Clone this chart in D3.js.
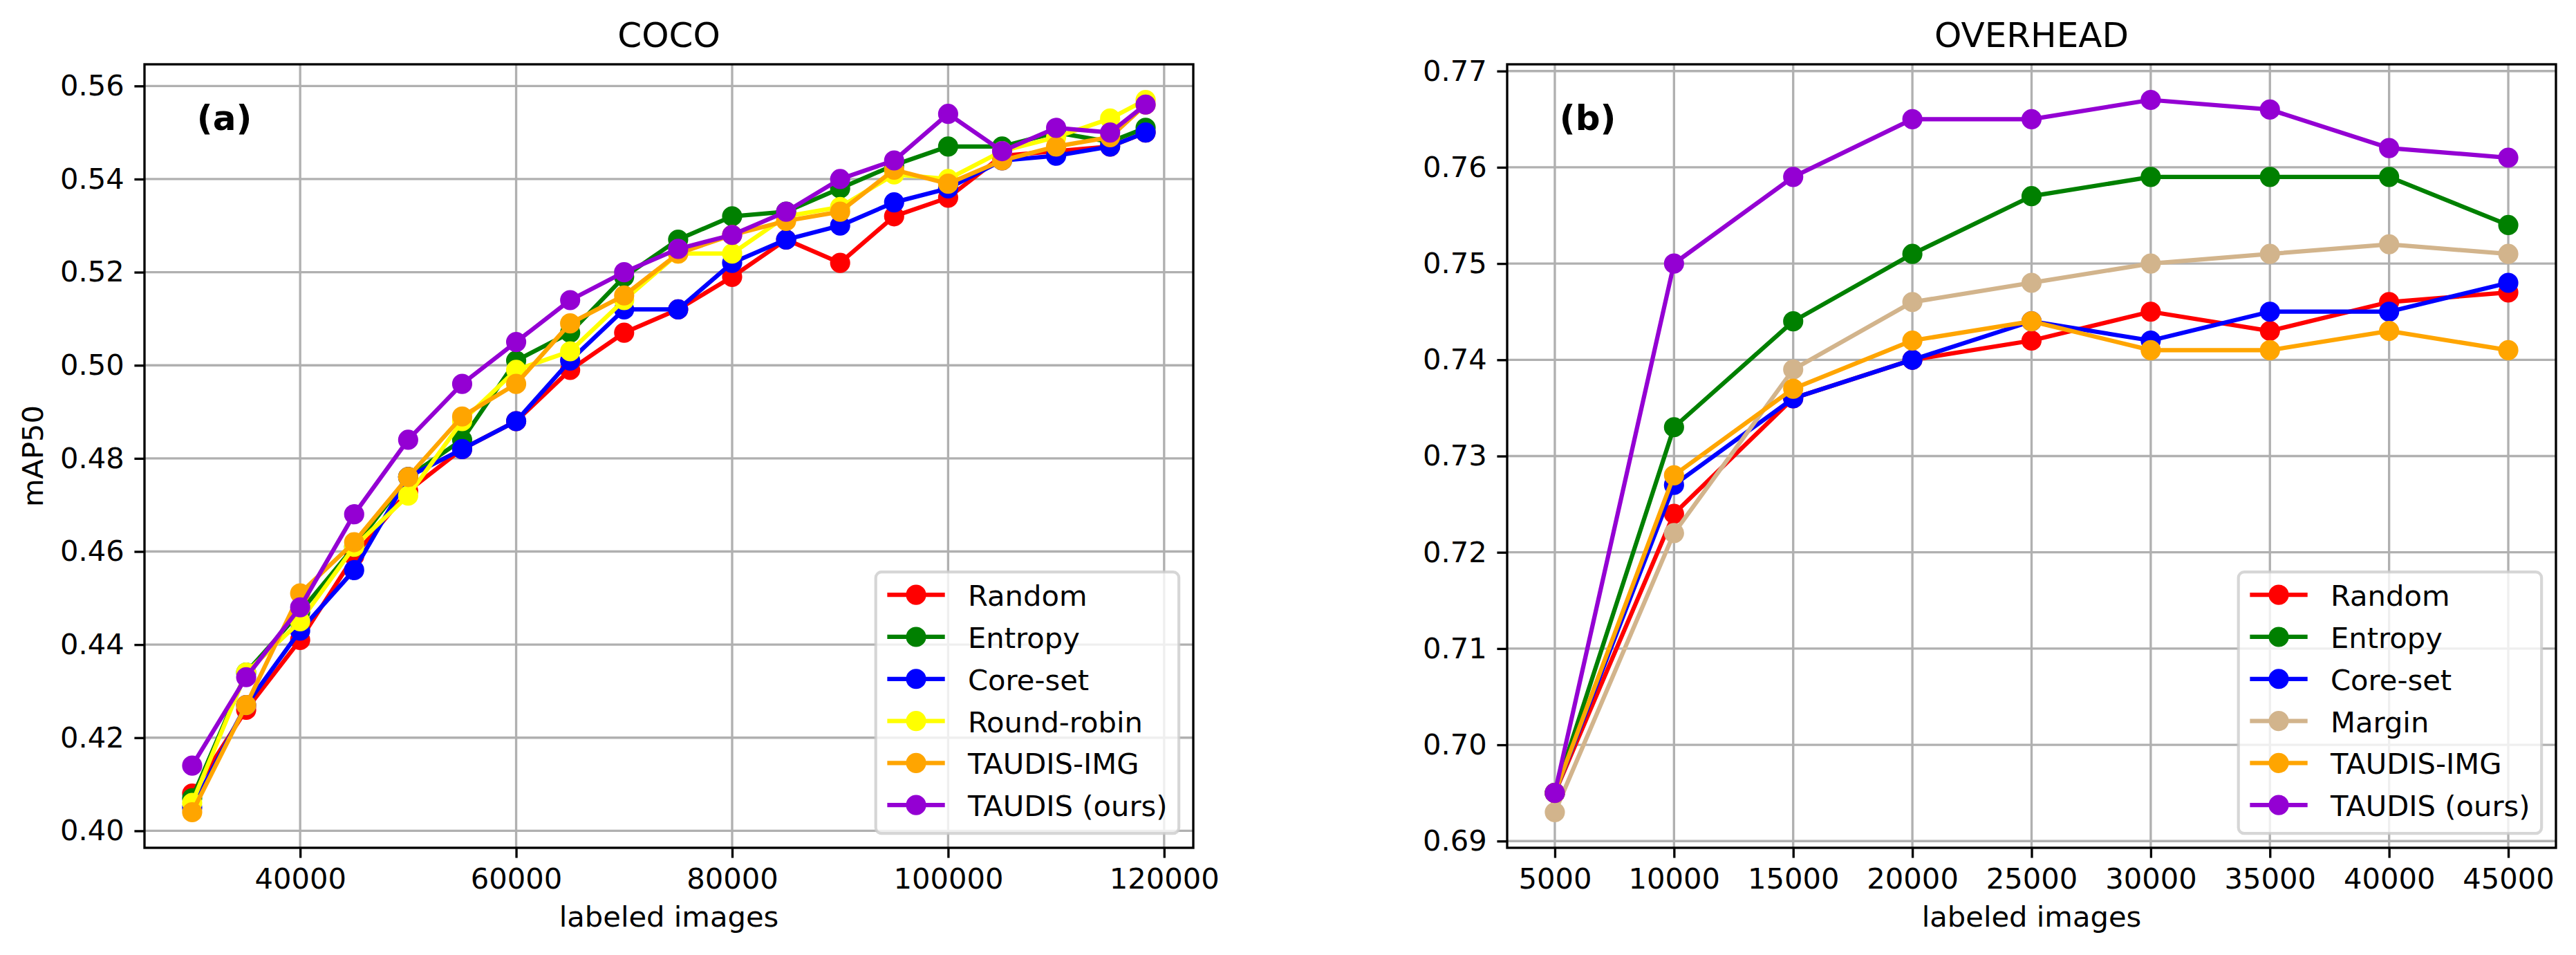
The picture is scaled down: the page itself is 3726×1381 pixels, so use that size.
<!DOCTYPE html>
<html>
<head>
<meta charset="utf-8">
<script src="https://cdn.jsdelivr.net/npm/d3@7"></script>
<style>
  body { margin: 0; background: #fff; }
  svg text { font-family: "DejaVu Sans", sans-serif; fill: #000; }
</style>
</head>
<body>
<svg id="chart" width="3726" height="1381"></svg>
<script>
// ---- data ----
var cocoImages = [30000, 35000, 40000, 45000, 50000, 55000, 60000, 65000, 70000, 75000,
                  80000, 85000, 90000, 95000, 100000, 105000, 110000, 115000, 118287];
var cocoRandom     = [0.408, 0.426, 0.441, 0.459, 0.473, 0.482, 0.488, 0.499, 0.507, 0.512,
                      0.519, 0.527, 0.522, 0.532, 0.536, 0.545, 0.546, 0.547, 0.550];
var cocoEntropy    = [0.407, 0.434, 0.447, 0.461, 0.476, 0.484, 0.501, 0.507, 0.519, 0.527,
                      0.532, 0.533, 0.538, 0.543, 0.547, 0.547, 0.550, 0.548, 0.551];
var cocoCoreset    = [0.405, 0.427, 0.443, 0.456, 0.476, 0.482, 0.488, 0.501, 0.512, 0.512,
                      0.522, 0.527, 0.530, 0.535, 0.538, 0.544, 0.545, 0.547, 0.550];
var cocoRoundRobin = [0.406, 0.434, 0.445, 0.461, 0.472, 0.488, 0.499, 0.503, 0.514, 0.524,
                      0.524, 0.532, 0.534, 0.541, 0.540, 0.546, 0.549, 0.553, 0.557];
var cocoTaudisImg  = [0.404, 0.427, 0.451, 0.462, 0.476, 0.489, 0.496, 0.509, 0.515, 0.524,
                      0.528, 0.531, 0.533, 0.542, 0.539, 0.544, 0.547, 0.549, 0.556];
var cocoTaudis     = [0.414, 0.433, 0.448, 0.468, 0.484, 0.496, 0.505, 0.514, 0.520, 0.525,
                      0.528, 0.533, 0.540, 0.544, 0.554, 0.546, 0.551, 0.550, 0.556];

var overheadImages = [5000, 10000, 15000, 20000, 25000, 30000, 35000, 40000, 45000];
var overheadRandom    = [0.695, 0.724, 0.736, 0.740, 0.742, 0.745, 0.743, 0.746, 0.747];
var overheadEntropy   = [0.695, 0.733, 0.744, 0.751, 0.757, 0.759, 0.759, 0.759, 0.754];
var overheadCoreset   = [0.695, 0.727, 0.736, 0.740, 0.744, 0.742, 0.745, 0.745, 0.748];
var overheadMargin    = [0.693, 0.722, 0.739, 0.746, 0.748, 0.750, 0.751, 0.752, 0.751];
var overheadTaudisImg = [0.695, 0.728, 0.737, 0.742, 0.744, 0.741, 0.741, 0.743, 0.741];
var overheadTaudis    = [0.695, 0.750, 0.759, 0.765, 0.765, 0.767, 0.766, 0.762, 0.761];

var cocoTicksX     = [40000, 60000, 80000, 100000, 120000],
    cocoTicksY     = [0.40, 0.42, 0.44, 0.46, 0.48, 0.50, 0.52, 0.54, 0.56],
    overheadTicksX = [5000, 10000, 15000, 20000, 25000, 30000, 35000, 40000, 45000],
    overheadTicksY = [0.69, 0.70, 0.71, 0.72, 0.73, 0.74, 0.75, 0.76, 0.77];

// ---- layout (300 dpi, so 1pt = 300/72 px) ----
var pt         = 300 / 72,
    fontSize   = 10 * pt,
    lineW      = 1.5 * pt,
    markR      = 3 * pt,
    markEdge   = 1 * pt,
    axisW      = 0.8 * pt,
    tickLen    = 3.5 * pt,
    tickPad    = 3.5 * pt,
    plotTop    = 93,
    plotBottom = 1226;

var svg = d3.select('#chart');
svg.append('rect').attr('width', 3726).attr('height', 1381).attr('fill', '#fff');

function padded(ext) {
  var r = ext[1] - ext[0];
  return [ext[0] - r * 0.05, ext[1] + r * 0.05];
}

function panel(opt) {
  var g = svg.append('g');

  var x = d3.scaleLinear()
    .domain(padded(d3.extent(opt.x)))
    .range([opt.left, opt.right]);

  var y = d3.scaleLinear()
    .domain(padded(d3.extent(d3.merge(opt.series.map(function(s) { return s.values; })))))
    .range([plotBottom, plotTop]);

  // grid
  var grid = g.append('g').attr('stroke', '#b0b0b0').attr('stroke-width', axisW);
  grid.selectAll('line.gx').data(opt.ticksX).enter().append('line')
    .attr('x1', x).attr('x2', x).attr('y1', plotTop).attr('y2', plotBottom);
  grid.selectAll('line.gy').data(opt.ticksY).enter().append('line')
    .attr('y1', y).attr('y2', y).attr('x1', opt.left).attr('x2', opt.right);

  // series
  var line = d3.line()
    .x(function(d, i) { return x(opt.x[i]); })
    .y(function(d) { return y(d); });

  opt.series.forEach(function(s) {
    var sg = g.append('g');
    sg.append('path')
      .attr('d', line(s.values))
      .attr('fill', 'none')
      .attr('stroke', s.color)
      .attr('stroke-width', lineW)
      .attr('stroke-linejoin', 'round');
    sg.selectAll('circle').data(s.values).enter().append('circle')
      .attr('cx', function(d, i) { return x(opt.x[i]); })
      .attr('cy', y)
      .attr('r', markR)
      .attr('fill', s.color)
      .attr('stroke', s.color)
      .attr('stroke-width', markEdge);
  });

  // spines
  g.append('rect')
    .attr('x', opt.left).attr('y', plotTop)
    .attr('width', opt.right - opt.left).attr('height', plotBottom - plotTop)
    .attr('fill', 'none').attr('stroke', '#000').attr('stroke-width', axisW);

  // axes
  var xAxis = g.append('g')
    .attr('transform', 'translate(0,' + plotBottom + ')')
    .call(d3.axisBottom(x).tickValues(opt.ticksX).tickSize(tickLen).tickPadding(tickPad)
      .tickFormat(d3.format('d')));
  var yAxis = g.append('g')
    .attr('transform', 'translate(' + opt.left + ',0)')
    .call(d3.axisLeft(y).tickValues(opt.ticksY).tickSize(tickLen).tickPadding(tickPad)
      .tickFormat(d3.format('.2f')));

  [xAxis, yAxis].forEach(function(a) {
    a.attr('font-family', null).attr('font-size', null);
    a.select('.domain').remove();
    a.selectAll('.tick line').attr('stroke', '#000').attr('stroke-width', axisW);
    a.selectAll('.tick text').style('font-size', fontSize + 'px').attr('fill', '#000');
  });

  // title, axis labels, panel tag
  g.append('text')
    .attr('x', (opt.left + opt.right) / 2).attr('y', plotTop - 6 * pt)
    .attr('text-anchor', 'middle')
    .style('font-size', (12 * pt) + 'px')
    .text(opt.title);

  g.append('text')
    .attr('x', (opt.left + opt.right) / 2).attr('y', 1340)
    .attr('text-anchor', 'middle')
    .style('font-size', fontSize + 'px')
    .text('labeled images');

  if (opt.ylabel) {
    g.append('text')
      .attr('transform', 'translate(62,' + ((plotTop + plotBottom) / 2) + ') rotate(-90)')
      .attr('text-anchor', 'middle')
      .style('font-size', fontSize + 'px')
      .text(opt.ylabel);
  }

  g.append('text')
    .attr('x', opt.left + 0.05 * (opt.right - opt.left)).attr('y', 188)
    .style('font-size', (12 * pt) + 'px')
    .style('font-weight', 'bold')
    .text(opt.tag);

  legend(g, opt.series, opt.right - 0.5 * fontSize, plotBottom - 0.5 * fontSize);
}

function legend(g, series, right, bot) {
  var rowH    = 60.8,
      border  = 0.4 * fontSize,
      handleL = 2 * fontSize,
      textPad = 0.8 * fontSize,
      boxH    = 378,
      boxTop  = bot - boxH;

  var lg = g.append('g');
  var frame = lg.append('rect')
    .attr('y', boxTop).attr('height', boxH)
    .attr('rx', 0.2 * fontSize).attr('ry', 0.2 * fontSize)
    .attr('fill', '#fff').attr('fill-opacity', 0.8)
    .attr('stroke', '#cccccc').attr('stroke-opacity', 0.8)
    .attr('stroke-width', 1 * pt);

  var rows = lg.selectAll('g.row').data(series).enter().append('g').attr('class', 'row');

  var labels = rows.append('text')
    .attr('y', function(d, i) { return boxTop + 49 + i * rowH; })
    .style('font-size', fontSize + 'px')
    .text(function(d) { return d.name; });

  var maxW = d3.max(labels.nodes(), function(n) { return n.getComputedTextLength(); });
  var boxW = border * 2 + handleL + textPad + maxW,
      left = right - boxW,
      hx0  = left + border,
      hx1  = hx0 + handleL;

  frame.attr('x', left).attr('width', boxW);
  labels.attr('x', hx1 + textPad);

  rows.append('line')
    .attr('x1', hx0).attr('x2', hx1)
    .attr('y1', function(d, i) { return boxTop + 33 + i * rowH; })
    .attr('y2', function(d, i) { return boxTop + 33 + i * rowH; })
    .attr('stroke', function(d) { return d.color; })
    .attr('stroke-width', lineW);

  rows.append('circle')
    .attr('cx', (hx0 + hx1) / 2)
    .attr('cy', function(d, i) { return boxTop + 33 + i * rowH; })
    .attr('r', markR)
    .attr('fill', function(d) { return d.color; })
    .attr('stroke', function(d) { return d.color; })
    .attr('stroke-width', markEdge);
}

panel({
  title: 'COCO', tag: '(a)', ylabel: 'mAP50',
  left: 209, right: 1726,
  x: cocoImages, ticksX: cocoTicksX, ticksY: cocoTicksY,
  series: [
    { name: 'Random',        color: 'red',        values: cocoRandom },
    { name: 'Entropy',       color: 'green',      values: cocoEntropy },
    { name: 'Core-set',      color: 'blue',       values: cocoCoreset },
    { name: 'Round-robin',   color: 'yellow',     values: cocoRoundRobin },
    { name: 'TAUDIS-IMG',    color: 'orange',     values: cocoTaudisImg },
    { name: 'TAUDIS (ours)', color: 'darkviolet', values: cocoTaudis }
  ]
});

panel({
  title: 'OVERHEAD', tag: '(b)', ylabel: null,
  left: 2180, right: 3697,
  x: overheadImages, ticksX: overheadTicksX, ticksY: overheadTicksY,
  series: [
    { name: 'Random',        color: 'red',        values: overheadRandom },
    { name: 'Entropy',       color: 'green',      values: overheadEntropy },
    { name: 'Core-set',      color: 'blue',       values: overheadCoreset },
    { name: 'Margin',        color: 'tan',        values: overheadMargin },
    { name: 'TAUDIS-IMG',    color: 'orange',     values: overheadTaudisImg },
    { name: 'TAUDIS (ours)', color: 'darkviolet', values: overheadTaudis }
  ]
});
</script>
</body>
</html>
